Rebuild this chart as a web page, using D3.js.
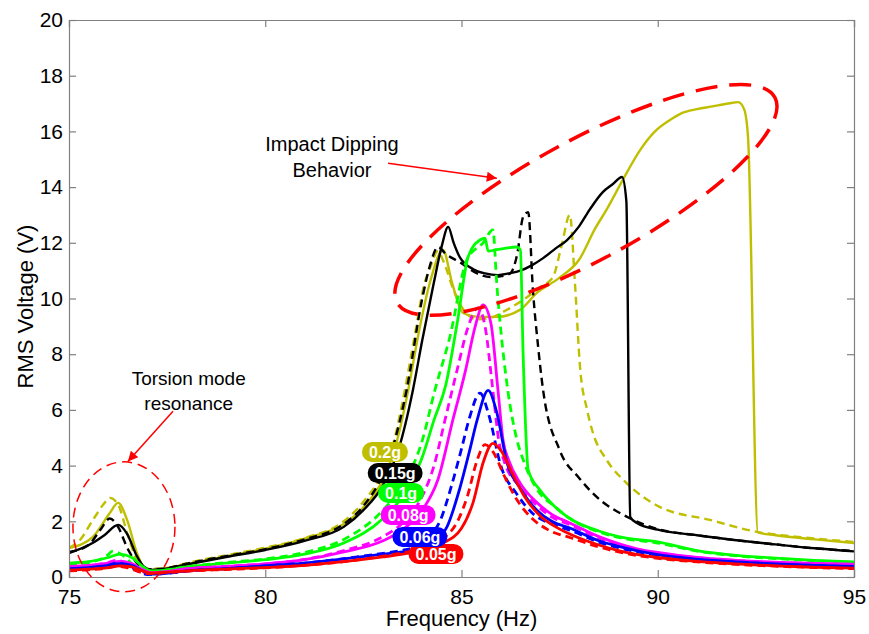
<!DOCTYPE html>
<html lang="en">
<head>
<meta charset="UTF-8">
<title>RMS Voltage vs Frequency</title>
<script src="https://d3js.org/d3.v7.min.js"></script>
<style>
  body { margin: 0; background: #fff; }
  text { font-family: "Liberation Sans", Arial, sans-serif; }
</style>
</head>
<body>
<script>
// tick labels
var xTicks = [75, 80, 85, 90, 95];
var yTicks = [0, 2, 4, 6, 8, 10, 12, 14, 16, 18, 20];

// excitation levels, colours and label text
var levels = ['0.05g', '0.06g', '0.08g', '0.1g', '0.15g', '0.2g'];
var colors = ['#ff0000', '#0000ff', '#ff00ff', '#00ff00', '#000000', '#bfbf00'];

// 0.05g
var f005up = [75, 75.5, 76, 76.3, 76.6, 76.9, 77.1, 77.4, 78, 79, 80, 81, 82, 83, 83.5, 84, 84.5, 85, 85.3, 85.55, 85.8, 86, 86.3, 86.6, 87, 87.4, 87.8, 88.5, 89, 90, 91, 92, 93, 94, 95];
var v005up = [0.25, 0.28, 0.34, 0.4, 0.36, 0.2, 0.14, 0.16, 0.22, 0.28, 0.34, 0.42, 0.55, 0.72, 0.82, 0.95, 1.2, 1.75, 2.7, 4.1, 4.8, 4.55, 3.7, 2.9, 2.2, 1.8, 1.52, 1.15, 0.95, 0.7, 0.56, 0.47, 0.4, 0.35, 0.32];
var f005dn = [75, 75.5, 76, 76.2, 76.5, 76.8, 77.0, 77.4, 78, 79, 80, 81, 82, 83, 83.5, 84, 84.5, 84.9, 85.15, 85.4, 85.6, 85.8, 86.1, 86.4, 86.8, 87.2, 87.8, 88.5, 89, 90, 91, 92, 93, 94, 95];
var v005dn = [0.22, 0.26, 0.33, 0.38, 0.33, 0.18, 0.12, 0.15, 0.21, 0.27, 0.33, 0.42, 0.55, 0.75, 0.87, 1.02, 1.35, 2.0, 2.9, 4.2, 4.75, 4.5, 3.6, 2.8, 2.1, 1.7, 1.4, 1.08, 0.9, 0.67, 0.54, 0.45, 0.39, 0.34, 0.3];

// 0.06g
var f006up = [75, 75.5, 76, 76.3, 76.6, 76.9, 77.1, 77.4, 78, 79, 80, 81, 82, 83, 83.5, 83.9, 84.3, 84.63, 84.96, 85.2, 85.4, 85.68, 85.9, 86.16, 86.49, 86.92, 87.3, 87.76, 88.5, 89, 90, 91, 92, 93, 94, 95];
var v006up = [0.3, 0.34, 0.42, 0.48, 0.42, 0.2, 0.1, 0.12, 0.22, 0.3, 0.4, 0.5, 0.65, 0.82, 0.9, 1.0, 1.3, 1.8, 3.2, 4.5, 5.64, 6.7, 5.9, 4.1, 3.2, 2.4, 2.0, 1.76, 1.3, 1.1, 0.8, 0.64, 0.54, 0.47, 0.42, 0.38];
var f006dn = [75, 75.5, 76, 76.2, 76.5, 76.8, 77.0, 77.4, 78, 79, 80, 81, 82, 83, 83.5, 83.8, 84.1, 84.45, 84.75, 85.0, 85.2, 85.47, 85.7, 86.0, 86.4, 86.8, 87.3, 87.76, 88.5, 89, 90, 91, 92, 93, 94, 95];
var v006dn = [0.28, 0.32, 0.42, 0.5, 0.42, 0.18, 0.09, 0.12, 0.21, 0.3, 0.4, 0.5, 0.66, 0.85, 0.96, 1.08, 1.4, 2.0, 3.3, 4.6, 5.7, 6.6, 5.8, 4.0, 3.0, 2.3, 1.9, 1.68, 1.25, 1.05, 0.78, 0.62, 0.53, 0.46, 0.41, 0.37];

// 0.08g
var f008up = [75, 75.5, 76, 76.3, 76.6, 76.9, 77.1, 77.4, 78, 79, 80, 81, 82, 83, 83.5, 84, 84.4, 84.78, 85.1, 85.35, 85.55, 85.75, 85.93, 86.06, 86.2, 86.49, 86.9, 87.3, 87.76, 88.5, 89, 89.6, 90, 91, 92, 93, 94, 95];
var v008up = [0.38, 0.42, 0.5, 0.56, 0.48, 0.25, 0.16, 0.18, 0.3, 0.38, 0.47, 0.62, 0.9, 1.3, 1.7, 2.4, 3.5, 5.64, 7.4, 9.0, 9.77, 9.1, 6.7, 4.9, 4.2, 3.38, 2.7, 2.25, 1.94, 1.45, 1.2, 0.97, 0.88, 0.7, 0.6, 0.53, 0.49, 0.46];
var f008dn = [75, 75.5, 76, 76.2, 76.5, 76.8, 77.0, 77.4, 78, 79, 80, 81, 82, 83, 83.5, 84, 84.3, 84.58, 84.9, 85.15, 85.42, 85.6, 85.8, 85.95, 86.1, 86.45, 86.9, 87.3, 87.76, 88.5, 89, 89.6, 90, 91, 92, 93, 94, 95];
var v008dn = [0.36, 0.4, 0.52, 0.6, 0.48, 0.22, 0.14, 0.17, 0.29, 0.38, 0.47, 0.63, 0.95, 1.45, 1.95, 2.9, 4.0, 5.64, 7.5, 8.9, 9.66, 9.0, 6.7, 4.9, 4.1, 3.3, 2.6, 2.15, 1.88, 1.4, 1.16, 0.95, 0.86, 0.69, 0.59, 0.52, 0.48, 0.45];

// 0.1g
var f010up = [75, 75.5, 76, 76.3, 76.6, 76.9, 77.1, 77.4, 78, 79, 80, 81, 82, 83, 83.5, 84, 84.3, 84.6, 84.9, 85.17, 85.47, 85.6, 85.68, 85.85, 86.1, 86.4, 86.5, 86.57, 86.7, 87.0, 87.4, 87.76, 88.5, 89, 90, 91, 92, 93, 94, 95];
var v010up = [0.5, 0.55, 0.7, 0.82, 0.7, 0.35, 0.22, 0.24, 0.36, 0.5, 0.62, 0.82, 1.22, 2.1, 2.9, 4.3, 5.64, 6.9, 9.2, 11.5, 12.1, 12.17, 11.7, 11.74, 11.8, 11.85, 11.74, 8.0, 3.84, 3.12, 2.5, 2.1, 1.65, 1.45, 1.26, 0.95, 0.78, 0.68, 0.6, 0.54];
var f010dn = [75, 75.5, 76, 76.1, 76.4, 76.7, 77.0, 77.4, 78, 79, 80, 81, 82, 83, 83.5, 84, 84.32, 84.7, 85.14, 85.55, 85.8, 85.9, 86.18, 86.4, 86.6, 86.9, 87.4, 87.76, 88.5, 89, 90, 91, 92, 93, 94, 95];
var v010dn = [0.45, 0.52, 0.8, 0.92, 0.75, 0.35, 0.2, 0.24, 0.37, 0.52, 0.65, 0.88, 1.35, 2.4, 3.3, 4.9, 6.7, 8.6, 11.4, 12.0, 12.46, 10.5, 6.7, 5.0, 4.1, 3.2, 2.5, 2.1, 1.62, 1.42, 1.22, 0.93, 0.76, 0.66, 0.58, 0.52];

// 0.15g
var f015up = [75, 75.6, 75.9, 76.25, 76.48, 76.73, 76.9, 77.1, 77.4, 78, 79, 80, 81, 82, 82.5, 83, 83.4, 83.76, 84.0, 84.3, 84.5, 84.66, 84.8, 84.95, 85.3, 85.6, 85.93, 86.2, 86.5, 86.8, 87.08, 87.4, 87.69, 88.0, 88.27, 88.6, 88.85, 89.09, 89.2, 89.3, 89.47, 90, 91, 92, 93, 94, 95];
var v015up = [0.86, 1.22, 1.5, 1.87, 1.55, 0.75, 0.38, 0.25, 0.28, 0.45, 0.72, 0.97, 1.3, 1.8, 2.4, 3.3, 4.6, 6.7, 8.5, 10.6, 11.9, 12.57, 12.0, 11.5, 11.05, 10.9, 10.84, 10.9, 11.0, 11.2, 11.45, 11.8, 12.1, 12.6, 13.2, 13.82, 14.1, 14.36, 13.5, 2.15, 1.94, 1.7, 1.5, 1.32, 1.17, 1.03, 0.92];
var f015dn = [75, 75.5, 75.8, 76.04, 76.25, 76.5, 76.8, 77.0, 77.4, 78, 79, 80, 81, 82, 82.5, 83, 83.3, 83.6, 84.0, 84.2, 84.4, 84.6, 84.96, 85.4, 85.73, 86.0, 86.24, 86.42, 86.57, 86.7, 86.82, 86.95, 87.08, 87.5, 88.0, 88.35, 89.3, 90, 91, 92, 93, 94, 95];
var v015dn = [0.9, 1.15, 1.7, 2.1, 1.8, 1.0, 0.4, 0.28, 0.3, 0.48, 0.75, 1.0, 1.35, 1.9, 2.55, 3.7, 4.9, 6.7, 10.0, 11.2, 11.85, 11.6, 11.3, 10.9, 10.77, 10.8, 10.9, 11.6, 12.93, 13.1, 10.3, 8.3, 6.7, 4.56, 3.55, 3.0, 2.1, 1.72, 1.5, 1.32, 1.17, 1.03, 0.93];

// 0.2g
var f020up = [75, 75.61, 76.04, 76.25, 76.48, 76.73, 76.9, 77.06, 77.4, 78, 79, 80, 81, 82, 82.5, 83, 83.3, 83.64, 83.9, 84.2, 84.53, 84.76, 85.04, 85.47, 85.9, 86.5, 86.92, 87.5, 88.0, 88.4, 88.7, 89.11, 89.55, 89.93, 90.3, 90.6, 91.0, 91.4, 91.8, 92.05, 92.2, 92.3, 92.55, 93, 94, 95];
var v020up = [1.04, 1.44, 2.3, 2.66, 2.05, 0.86, 0.36, 0.25, 0.3, 0.46, 0.74, 1.02, 1.38, 1.9, 2.5, 3.5, 4.6, 6.7, 8.7, 10.6, 11.74, 10.56, 9.48, 9.34, 9.34, 9.6, 10.2, 10.75, 11.4, 12.5, 13.2, 14.26, 15.33, 16.0, 16.4, 16.65, 16.8, 16.9, 17.0, 17.05, 16.8, 15.8, 1.6, 1.5, 1.35, 1.22];
var f020dn = [75, 75.28, 75.61, 75.97, 76.04, 76.25, 76.5, 76.75, 77.0, 77.4, 78, 79, 80, 81, 82, 82.5, 83, 83.3, 83.5, 83.8, 84.05, 84.2, 84.4, 84.55, 84.8, 85.1, 85.4, 85.73, 86.1, 86.57, 87.0, 87.33, 87.55, 87.76, 87.89, 88.02, 88.2, 88.35, 88.7, 89.2, 90.06, 91.33, 92.53, 93.5, 95];
var v020dn = [1.05, 1.33, 2.05, 2.76, 2.84, 2.6, 1.5, 0.55, 0.3, 0.3, 0.5, 0.78, 1.05, 1.4, 2.0, 2.7, 3.8, 5.0, 6.3, 8.6, 10.5, 11.1, 11.7, 11.3, 10.3, 9.5, 9.25, 9.3, 9.55, 9.95, 10.4, 10.77, 11.9, 13.0, 10.56, 7.54, 6.0, 5.17, 4.2, 3.38, 2.51, 2.05, 1.62, 1.45, 1.26];

var freqUp = [f005up, f006up, f008up, f010up, f015up, f020up];
var voltUp = [v005up, v006up, v008up, v010up, v015up, v020up];
var freqDn = [f005dn, f006dn, f008dn, f010dn, f015dn, f020dn];
var voltDn = [v005dn, v006dn, v008dn, v010dn, v015dn, v020dn];

// where the level labels sit, in data units
var labelX = [84.35, 83.94, 83.64, 83.46, 83.31, 83.05];
var labelY = [0.83, 1.44, 2.23, 3.02, 3.73, 4.49];

var width = 869, height = 634;
var plotL = 69, plotR = 854, plotT = 20, plotB = 577;

var x = d3.scaleLinear().domain([75, 95]).range([plotL, plotR]);
var y = d3.scaleLinear().domain([0, 20]).range([plotB, plotT]);

var svg = d3.select('body').append('svg')
    .attr('width', width)
    .attr('height', height);

var defs = svg.append('defs');
defs.append('clipPath').attr('id', 'plot')
   .append('rect')
   .attr('x', plotL).attr('y', plotT)
   .attr('width', plotR - plotL).attr('height', plotB - plotT);

defs.append('marker')
   .attr('id', 'head')
   .attr('viewBox', '0 0 10 10')
   .attr('refX', 10).attr('refY', 5)
   .attr('markerWidth', 18).attr('markerHeight', 10)
   .attr('markerUnits', 'userSpaceOnUse')
   .attr('orient', 'auto')
   .append('path')
   .attr('d', 'M0,0 L10,5 L0,10 Z')
   .attr('fill', '#ff0000');

var line = d3.line()
    .x(function(d) { return x(d[0]); })
    .y(function(d) { return y(d[1]); })
    .curve(d3.curveMonotoneX);

var lines = svg.append('g').attr('clip-path', 'url(#plot)');

// draw lowest level last so it stays on top, like the original
for (var i = levels.length - 1; i >= 0; i--) {
    var up = freqUp[i].map(function(f, k) { return [f, voltUp[i][k]]; });
    var dn = freqDn[i].map(function(f, k) { return [f, voltDn[i][k]]; });
    var w = i >= 4 ? 2.4 : 2.8;
    lines.append('path')
         .attr('d', line(dn))
         .attr('fill', 'none')
         .attr('stroke', colors[i])
         .attr('stroke-width', w)
         .attr('stroke-dasharray', '8,5');
    lines.append('path')
         .attr('d', line(up))
         .attr('fill', 'none')
         .attr('stroke', colors[i])
         .attr('stroke-width', w);
}

// frame + inward ticks on all sides
var axisColor = '#808080';
var xb = svg.append('g').attr('transform', 'translate(0,' + plotB + ')')
    .call(d3.axisBottom(x).tickValues(xTicks).tickSize(-7).tickPadding(12).tickFormat(d3.format('d')));
var xt = svg.append('g').attr('transform', 'translate(0,' + plotT + ')')
    .call(d3.axisTop(x).tickValues(xTicks).tickSize(-7).tickFormat(''));
var yl = svg.append('g').attr('transform', 'translate(' + plotL + ',0)')
    .call(d3.axisLeft(y).tickValues(yTicks).tickSize(-7).tickPadding(6).tickFormat(d3.format('d')));
var yr = svg.append('g').attr('transform', 'translate(' + plotR + ',0)')
    .call(d3.axisRight(y).tickValues(yTicks).tickSize(-7).tickFormat(''));

[xb, xt, yl, yr].forEach(function(g) {
    g.selectAll('path').attr('stroke', axisColor).attr('stroke-width', 1.2);
    g.selectAll('line').attr('stroke', axisColor).attr('stroke-width', 1.2);
    g.selectAll('text').attr('fill', '#000').style('font-size', '21px')
     .style('font-family', '"Liberation Sans", Arial, sans-serif');
});

svg.append('text')
   .attr('x', (plotL + plotR) / 2)
   .attr('y', 626)
   .attr('text-anchor', 'middle')
   .style('font-size', '22px')
   .text('Frequency (Hz)');

svg.append('text')
   .attr('transform', 'translate(33,' + ((plotT + plotB) / 2 + 8) + ') rotate(-90)')
   .attr('text-anchor', 'middle')
   .style('font-size', '22px')
   .text('RMS Voltage (V)');

// level labels
levels.forEach(function(lv, i) {
    var g = svg.append('g')
        .attr('transform', 'translate(' + x(labelX[i]) + ',' + y(labelY[i]) + ')');
    var t = g.append('text')
        .attr('text-anchor', 'middle')
        .attr('dy', '0.36em')
        .attr('fill', '#fff')
        .style('font-size', '16px')
        .style('font-weight', 'bold')
        .text(lv);
    var bw = t.node().getComputedTextLength() + 14;
    g.insert('rect', 'text')
        .attr('x', -bw / 2).attr('y', -10)
        .attr('width', bw).attr('height', 20)
        .attr('rx', 10).attr('ry', 10)
        .attr('fill', colors[i]);
});

// annotations
var torsion = svg.append('g');
torsion.append('ellipse')
    .attr('cx', x(76.4)).attr('cy', y(1.8))
    .attr('rx', 51).attr('ry', 65)
    .attr('fill', 'none')
    .attr('stroke', '#ff0000')
    .attr('stroke-width', 1.5)
    .attr('stroke-dasharray', '10,6');
torsion.append('line')
    .attr('x1', x(77.65)).attr('y1', y(5.95))
    .attr('x2', x(76.5)).attr('y2', y(4.15))
    .attr('stroke', '#ff0000')
    .attr('stroke-width', 1.5)
    .attr('marker-end', 'url(#head)');
torsion.append('text')
    .attr('x', x(78.05)).attr('y', y(6.9))
    .attr('text-anchor', 'middle')
    .style('font-size', '19px')
    .text('Torsion mode');
torsion.append('text')
    .attr('x', x(78.05)).attr('y', y(6.0))
    .attr('text-anchor', 'middle')
    .style('font-size', '19px')
    .text('resonance');

var impact = svg.append('g');
impact.append('ellipse')
    .attr('cx', 0).attr('cy', 0)
    .attr('rx', 215).attr('ry', 60)
    .attr('transform', 'translate(' + x(88.17) + ',' + y(13.54) + ') rotate(-28.5)')
    .attr('fill', 'none')
    .attr('stroke', '#ff0000')
    .attr('stroke-width', 3.5)
    .attr('stroke-dasharray', '22,12');
impact.append('line')
    .attr('x1', x(83.13)).attr('y1', y(14.86))
    .attr('x2', x(85.9)).attr('y2', y(14.32))
    .attr('stroke', '#ff0000')
    .attr('stroke-width', 1.5)
    .attr('marker-end', 'url(#head)');
impact.append('text')
    .attr('x', x(81.7)).attr('y', y(15.3))
    .attr('text-anchor', 'middle')
    .style('font-size', '20px')
    .text('Impact Dipping');
impact.append('text')
    .attr('x', x(81.7)).attr('y', y(14.35))
    .attr('text-anchor', 'middle')
    .style('font-size', '20px')
    .text('Behavior');
</script>
</body>
</html>
